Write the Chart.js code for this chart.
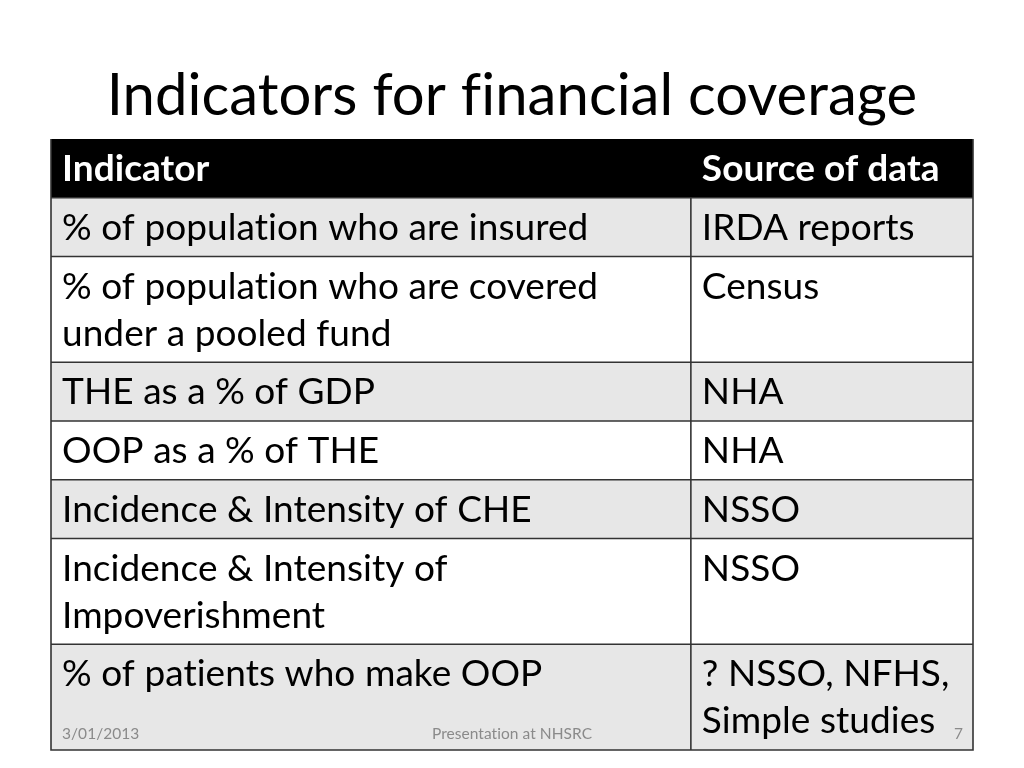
<!DOCTYPE html>
<html><head><meta charset="utf-8">
<script src="https://cdn.jsdelivr.net/npm/chart.js@4/dist/chart.umd.min.js"></script>
<style>html,body{margin:0;padding:0;background:#fff;overflow:hidden}canvas{font-variant-ligatures:none}</style>
</head><body>
<canvas id="c" width="1024" height="768"></canvas>
<script>
// ---- content ----
const titleText = 'Indicators for financial coverage';
const headers = ['Indicator', 'Source of data'];
const indicators = [
  ['% of population who are insured'],
  ['% of population who are covered', 'under a pooled fund'],
  ['THE as a % of GDP'],
  ['OOP as a % of THE'],
  ['Incidence & Intensity of CHE'],
  ['Incidence & Intensity of', 'Impoverishment'],
  ['% of patients who make OOP']
];
const sources = [
  ['IRDA reports'],
  ['Census'],
  ['NHA'],
  ['NHA'],
  ['NSSO'],
  ['NSSO'],
  ['? NSSO, NFHS,', 'Simple studies']
];
const footerDate = '3/01/2013';
const footerText = 'Presentation at NHSRC';
const slideNumber = '7';

// ---- layout helpers (table units) ----
const SPLIT = 0.694;          // column divider on x scale (0..1)
const EXTRA_LINE = 0.8;       // extra row height per extra text line (row units)
const rows = [{cells: [[headers[0]], [headers[1]]], header: true}];
indicators.forEach((l, i) => rows.push({cells: [l, sources[i]], header: false}));
let acc = 0;
rows.forEach(r => {
  const lines = Math.max(r.cells[0].length, r.cells[1].length);
  r.top = acc; r.bottom = acc + 1 + (lines - 1) * EXTRA_LINE; acc = r.bottom;
});
const TOTAL = acc;

const FONT = 'Lato, "Open Sans", sans-serif';

function noLig(ctx) {
  if ('letterSpacing' in ctx) ctx.letterSpacing = '0.05px';
}

const tablePlugin = {
  id: 'tablePlugin',
  beforeDatasetsDraw(chart) {
    const {ctx, scales: {x, y}} = chart;
    const X0 = x.getPixelForValue(0), XS = x.getPixelForValue(SPLIT), X1 = x.getPixelForValue(1);
    const unit = Math.abs(y.getPixelForValue(1) - y.getPixelForValue(0));
    ctx.save();
    noLig(ctx);
    rows.forEach((r, i) => {
      const t = y.getPixelForValue(r.top), b = y.getPixelForValue(r.bottom);
      ctx.fillStyle = r.header ? '#000000' : (i % 2 === 1 ? '#e7e7e7' : '#ffffff');
      ctx.fillRect(X0, t, X1 - X0, b - t);
    });
    // text
    rows.forEach((r) => {
      const t = y.getPixelForValue(r.top);
      ctx.font = (r.header ? 'bold ' : '') + '37px ' + FONT;
      ctx.fillStyle = r.header ? '#ffffff' : '#000000';
      ctx.textBaseline = 'alphabetic';
      ctx.textAlign = 'left';
      [X0, XS].forEach((cx, ci) => {
        r.cells[ci].forEach((line, li) => {
          ctx.fillText(line, cx + 11, t + unit * 0.715 + li * unit * EXTRA_LINE);
        });
      });
    });
    // grid lines
    ctx.strokeStyle = '#333333';
    ctx.lineWidth = 1.6;
    rows.forEach((r) => {
      if (r.top === 0) return;
      const t = y.getPixelForValue(r.top);
      ctx.beginPath(); ctx.moveTo(X0, t); ctx.lineTo(X1, t); ctx.stroke();
    });
    const yH = y.getPixelForValue(rows[1].top), yB = y.getPixelForValue(TOTAL), yT = y.getPixelForValue(0);
    ctx.beginPath(); ctx.moveTo(XS, yH); ctx.lineTo(XS, yB); ctx.stroke();
    ctx.beginPath(); ctx.moveTo(X0, yT); ctx.lineTo(X0, yB); ctx.lineTo(X1, yB); ctx.lineTo(X1, yT); ctx.stroke();
    ctx.restore();
  },
  afterDraw(chart) {
    const {ctx, scales: {x, y}} = chart;
    ctx.save();
    noLig(ctx);
    // title
    ctx.font = '58px ' + FONT;
    ctx.fillStyle = '#000000';
    ctx.textAlign = 'center';
    ctx.textBaseline = 'alphabetic';
    ctx.fillText(titleText, chart.width / 2, 115);
    // footer
    ctx.font = '15.5px ' + FONT;
    ctx.fillStyle = '#8a8a8a';
    ctx.textAlign = 'left';
    ctx.fillText(footerDate, x.getPixelForValue(0) + 11, 739);
    ctx.textAlign = 'center';
    ctx.fillText(footerText, chart.width / 2, 739);
    ctx.textAlign = 'right';
    ctx.fillText(slideNumber, x.getPixelForValue(1) - 10, 739);
    ctx.restore();
  }
};

new Chart(document.getElementById('c'), {
  type: 'scatter',
  data: {datasets: [{data: [], pointRadius: 0}]},
  options: {
    responsive: false,
    animation: false,
    devicePixelRatio: 1,
    layout: {padding: {left: 51, right: 51, top: 139, bottom: 18}},
    plugins: {legend: {display: false}, tooltip: {enabled: false}, title: {display: false}},
    scales: {
      x: {type: 'linear', min: 0, max: 1, display: false},
      y: {type: 'linear', min: 0, max: TOTAL, reverse: true, display: false}
    }
  },
  plugins: [tablePlugin]
});
</script>
</body></html>
